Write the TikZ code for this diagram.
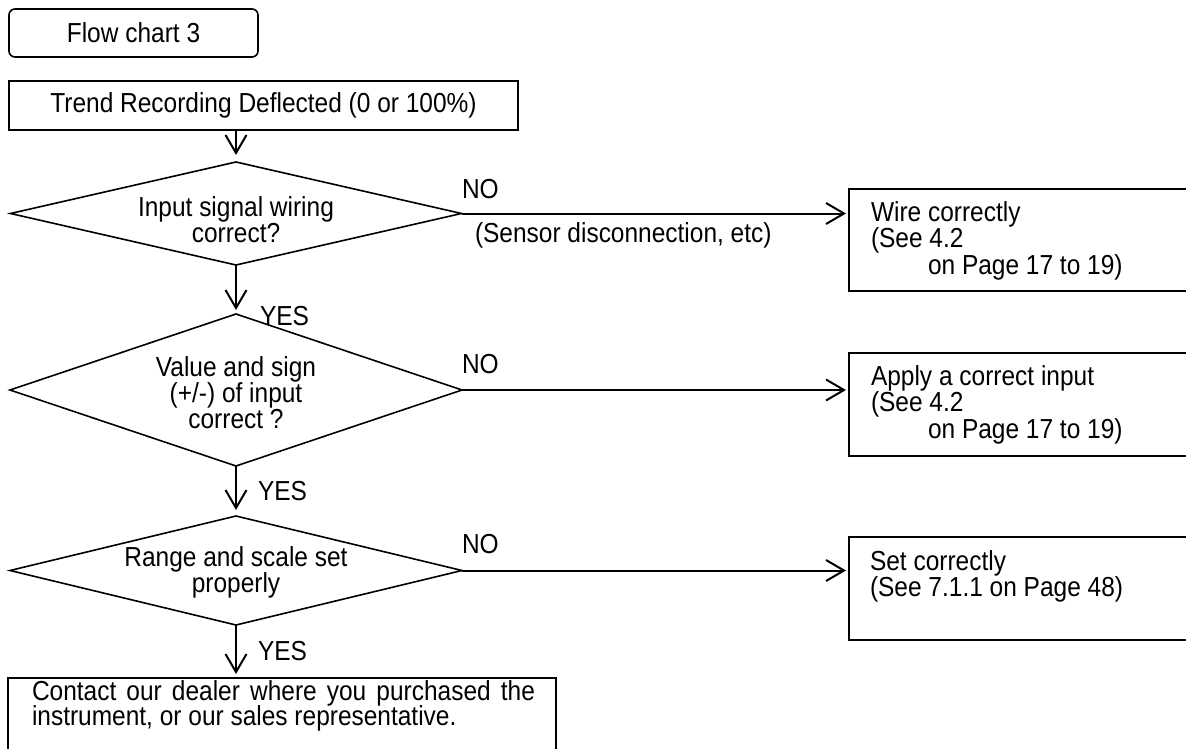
\documentclass[tikz,border=0pt]{standalone}
\usepackage{fontspec}
\setmainfont{Liberation Sans}[FakeStretch=0.89]
\usetikzlibrary{arrows.meta,shapes.geometric}
\newcommand\mystrut{\rule{0pt}{22pt}}
\begin{document}
\begin{tikzpicture}[x=1pt,y=-1pt,
  every node/.style={font={\fontsize{27.5pt}{26pt}\selectfont\lineskiplimit=-100pt\relax}, inner sep=0pt, outer sep=0pt},
  boxstyle/.style={draw, rectangle, line width=2pt},
  decision/.style={draw, diamond, line width=1.6pt, inner sep=0pt, outer sep=0pt},
  flowarrow/.style={line width=2pt, -{Straight Barb[length=18pt,width=21pt]}},
  btxt/.style={align=left, anchor=north west, font={\fontsize{27.5pt}{26.5pt}\selectfont\lineskiplimit=-100pt\relax}},
  ctxt/.style={align=center, anchor=north},
  lbl/.style={anchor=base west},
]
\useasboundingbox (0,0) rectangle (1186,749);
\fill[white] (0,0) rectangle (1186,749);
\clip (0,0) rectangle (1186,749);

% title and start
\node[draw, rectangle, rounded corners=6pt, line width=1.6pt, minimum width=249pt, minimum height=48pt] (title) at (133.5,33) {Flow chart 3};
\node[boxstyle, minimum width=509pt, minimum height=49pt] (trend) at (263.5,105.5) {Trend Recording Deflected (0 or 100\%)};

% decisions
\node[decision, minimum width=451pt, minimum height=103pt] (d1) at (236,213.5) {};
\node[decision, minimum width=452pt, minimum height=152pt] (d2) at (236,390) {};
\node[decision, minimum width=452pt, minimum height=109pt] (d3) at (236,570.5) {};
\node[ctxt] (d1t) at (236,194) {\mystrut Input signal wiring\\correct?};
\node[ctxt] (d2t) at (236,354) {\mystrut Value and sign\\(+/-) of input\\correct ?};
\node[ctxt] (d3t) at (236,544) {\mystrut Range and scale set\\properly};

% action boxes (cut off at the right edge)
\node[boxstyle, minimum width=351pt, minimum height=102pt] (box1) at (1024.5,240) {};
\node[boxstyle, minimum width=351pt, minimum height=103pt] (box2) at (1024.5,404.5) {};
\node[boxstyle, minimum width=351pt, minimum height=103pt] (box3) at (1024.5,588.5) {};
\node[btxt] (b1t) at (871,199) {\mystrut Wire correctly\\(See 4.2\\\hspace*{57pt}on Page 17 to 19)};
\node[btxt] (b2t) at (871,363) {\mystrut Apply a correct input\\(See 4.2\\\hspace*{57pt}on Page 17 to 19)};
\node[btxt] (b3t) at (870,548) {\mystrut Set correctly\\(See 7.1.1 on Page 48)};

% final box (cut off at the bottom edge)
\node[boxstyle, minimum width=548pt, minimum height=82pt] (final) at (282,719) {};
\node[btxt, font={\fontsize{27.5pt}{25pt}\selectfont\lineskiplimit=-100pt\relax}] (ft) at (32,678) {\mystrut\makebox[503pt][s]{Contact our dealer where you purchased the}\\instrument, or our sales representative.};

% labels
\node[lbl] (no1) at (462,198) {NO};
\node[lbl] (sensor) at (475,242) {(Sensor disconnection, etc)};
\node[lbl] (no2) at (462,373) {NO};
\node[lbl] (no3) at (462,553) {NO};
\node[lbl] (yes1) at (260,325) {YES};
\node[lbl] (yes2) at (258,500) {YES};
\node[lbl] (yes3) at (258,660) {YES};

% connectors
\draw[flowarrow, shorten >=7pt] (d1.north |- trend.south) -- (d1.north);
\draw[flowarrow, shorten >=4pt] (d1.south) -- (d2.north);
\draw[flowarrow, shorten >=6pt] (d2.south) -- (d3.north);
\draw[flowarrow, shorten >=4pt] (d3.south) -- (d3.south |- final.north);
\draw[flowarrow, shorten >=3pt] (d1.east) -- (d1.east -| box1.west);
\draw[flowarrow, shorten >=3pt] (d2.east) -- (d2.east -| box2.west);
\draw[flowarrow, shorten >=3pt] (d3.east) -- (d3.east -| box3.west);
\end{tikzpicture}
\end{document}
